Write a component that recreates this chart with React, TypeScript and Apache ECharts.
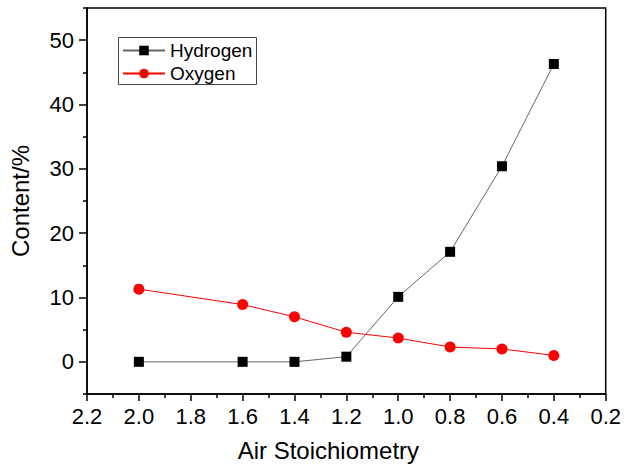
import React, { useEffect, useRef } from "react";
import * as echarts from "echarts";

const airStoich = [2.0, 1.6, 1.4, 1.2, 1.0, 0.8, 0.6, 0.4];
const hydrogen = [0, 0, 0, 0.8, 10.1, 17.1, 30.4, 46.3];
const oxygen = [11.3, 8.9, 7.0, 4.6, 3.7, 2.3, 2.0, 1.0];
const yMajorTicks = [0, 10, 20, 30, 40, 50];
const yMinorTicks = [-5, 5, 15, 25, 35, 45, 55];

const FONT = "Liberation Sans";

export default function App() {
  const ref = useRef<HTMLDivElement>(null);
  useEffect(() => {
    if (!ref.current) return;
    const chart = echarts.init(ref.current, null, { renderer: "svg" });
    const axisLine = { show: true, onZero: false, lineStyle: { color: "#000", width: 1.5 } };
    chart.setOption({
      animation: false,
      backgroundColor: "#fff",
      grid: {
        left: 86,
        right: 18,
        top: 8,
        bottom: 74,
        show: true,
        borderColor: "#000",
        borderWidth: 1.5,
        backgroundColor: "transparent",
      },
      graphic: [
        {
          type: "rect",
          left: 118,
          top: 37,
          shape: { width: 138, height: 47 },
          style: { fill: "#fff", stroke: "#444", lineWidth: 1 },
          z: 3,
        },
      ],
      legend: {
        orient: "vertical",
        left: 118,
        top: 38,
        padding: [3, 6, 3, 4],
        itemWidth: 42,
        itemHeight: 12,
        itemGap: 4,
        itemTextGap: 7,
        textStyle: { fontFamily: FONT, fontSize: 19, color: "#000" },
        data: ["Hydrogen", "Oxygen"],
        z: 5,
      },
      xAxis: [
        {
          type: "value",
          inverse: true,
          min: 0.2,
          max: 2.2,
          interval: 0.2,
          name: "Air Stoichiometry",
          nameLocation: "middle",
          nameGap: 44,
          nameTextStyle: { fontFamily: FONT, fontSize: 24, color: "#000", padding: [0, 36, 0, 0] },
          axisLine,
          axisTick: {
            show: true,
            inside: false,
            length: 7,
            lineStyle: { color: "#000", width: 1.5 },
          },
          minorTick: {
            show: true,
            splitNumber: 2,
            length: 4,
            lineStyle: { color: "#000", width: 1.5 },
          },
          axisLabel: {
            fontFamily: FONT,
            fontSize: 22,
            color: "#000",
            margin: 11,
            formatter: (v: number) => v.toFixed(1),
          },
          splitLine: { show: false },
        },
      ],
      yAxis: [
        {
          type: "value",
          min: -5,
          max: 55,
          name: "Content/%",
          nameLocation: "middle",
          nameGap: 55,
          nameTextStyle: { fontFamily: FONT, fontSize: 24, color: "#000" },
          axisLine,
          axisTick: {
            show: true,
            inside: false,
            length: 8,
            lineStyle: { color: "#000", width: 1.5 },
            customValues: yMajorTicks,
          },
          axisLabel: {
            fontFamily: FONT,
            fontSize: 22,
            color: "#000",
            margin: 13,
            customValues: yMajorTicks,
          },
          splitLine: { show: false },
        },
        {
          type: "value",
          min: -5,
          max: 55,
          position: "left",
          axisLine: { show: false, onZero: false },
          axisTick: {
            show: true,
            inside: false,
            length: 4,
            lineStyle: { color: "#000", width: 1.5 },
            customValues: yMinorTicks,
          },
          axisLabel: { show: false },
          splitLine: { show: false },
        },
      ],
      series: [
        {
          name: "Hydrogen",
          type: "line",
          data: airStoich.map((x, i) => [x, hydrogen[i]]),
          symbol: "rect",
          symbolSize: 10,
          itemStyle: { color: "#000" },
          lineStyle: { color: "#666", width: 1 },
          z: 3,
        },
        {
          name: "Oxygen",
          type: "line",
          data: airStoich.map((x, i) => [x, oxygen[i]]),
          symbol: "circle",
          symbolSize: 11,
          itemStyle: { color: "#ff0000" },
          lineStyle: { color: "#ff0000", width: 1 },
          z: 2,
        },
      ],
    });
    return () => chart.dispose();
  }, []);
  return <div ref={ref} style={{ width: 624, height: 468, position: "absolute", left: 0, top: 0 }} />;
}
